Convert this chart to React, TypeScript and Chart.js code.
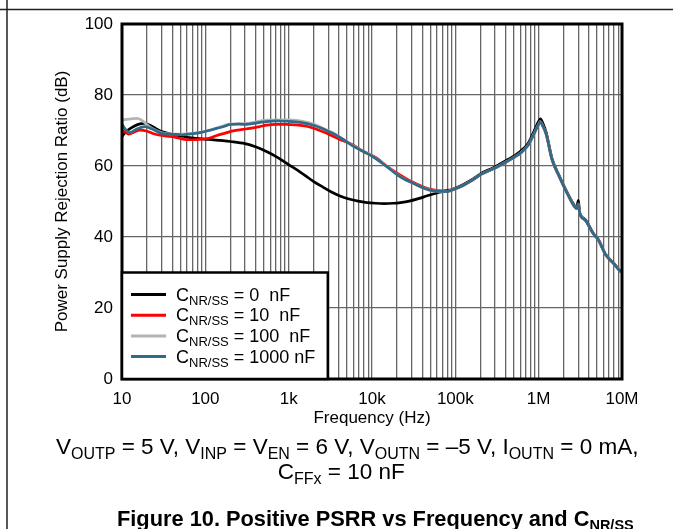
import React, { useEffect, useRef } from 'react';
import { Chart, registerables } from 'chart.js';
Chart.register(...registerables);

const FONT = 'Arial, "Liberation Sans", sans-serif';

// ---- data (frequency in Hz, PSRR in dB) ----
const blackFreq = [10, 11, 12.5, 14, 16, 18.5, 21, 24, 28, 33, 40, 50, 65, 85, 110, 150, 200, 300, 400, 550, 750, 1000, 1300, 1600, 2000, 2600, 3300, 4200, 5300, 6800, 8700, 11000, 14000, 18000, 22000, 28000, 36000, 46000, 60000, 75000, 90000];
const blackDb = [68.3, 69.5, 70.5, 71.2, 71.8, 72.0, 71.6, 70.9, 70.0, 69.4, 68.9, 68.5, 68.0, 67.7, 67.5, 67.2, 66.9, 66.3, 65.4, 64.0, 62.3, 60.4, 58.7, 57.2, 55.6, 54.0, 52.6, 51.5, 50.7, 50.1, 49.7, 49.5, 49.4, 49.5, 49.7, 50.1, 50.8, 51.6, 52.4, 53.0, 53.3];

const redFreq = [10, 11, 12, 13.5, 16.5, 20, 24, 28.6, 35, 45, 60, 72, 86, 110, 137, 170, 216, 280, 343, 450, 546, 700, 942, 1200, 1640, 2200, 2860, 4000, 5930, 8000, 11300, 15000, 21600, 31000, 50000, 78000];
const redDb = [70.1, 69.5, 69.0, 69.4, 70.1, 69.8, 69.1, 68.7, 68.4, 68.0, 67.4, 67.4, 67.5, 67.8, 68.6, 69.2, 69.9, 70.3, 70.6, 71.1, 71.5, 71.7, 71.7, 71.6, 71.2, 70.3, 69.2, 67.6, 65.9, 64.0, 62.3, 60.0, 57.5, 55.4, 53.4, 52.9];

const grayFreq = [10, 12, 15, 17, 19.8, 23, 31, 45, 72, 100, 137, 197, 313, 546, 942, 1370, 1980, 2600, 3400, 4500, 5930, 8000, 10300, 14000, 21600, 31400, 49600, 78000];
const grayDb = [73.0, 73.2, 73.4, 73.0, 71.7, 70.6, 69.3, 69.0, 69.2, 69.8, 70.7, 71.8, 72.0, 72.9, 73.0, 72.7, 71.8, 70.6, 69.3, 67.6, 65.7, 64.1, 62.7, 60.5, 57.1, 55.1, 53.2, 52.8];

const blueFreq = [10, 11, 12.5, 15, 18.9, 23, 31, 45, 54, 72, 86, 110, 137, 170, 197, 250, 313, 400, 546, 700, 942, 1370, 1980, 2600, 3400, 4500, 5930, 8000, 10300, 14000, 21600, 31400, 49600, 78000];
const blueDb = [71.8, 70.3, 69.4, 70.4, 71.1, 70.4, 69.1, 68.9, 68.8, 69.1, 69.4, 70.0, 70.6, 71.2, 71.7, 71.8, 71.7, 72.1, 72.5, 72.7, 72.6, 72.3, 71.5, 70.4, 69.2, 67.5, 65.6, 64.0, 62.6, 60.4, 57.0, 55.1, 53.2, 52.8];

// common high-frequency tail
const tailFreq = [1e5, 1.25e5, 1.6e5, 2e5, 2.9e5, 4.1e5, 5.2e5, 6e5, 7.5e5, 9e5, 1e6, 1.05e6, 1.12e6, 1.23e6, 1.45e6, 1.77e6, 2.15e6, 2.7e6, 2.85e6, 3e6, 3.1e6, 3.6e6, 4.5e6, 5.2e6, 6.4e6, 7.9e6, 9.4e6, 1e7];
const tailDb = [53.6, 54.6, 56.0, 57.6, 59.3, 61.2, 62.6, 63.6, 65.9, 69.6, 71.8, 72.5, 71.3, 69.0, 61.7, 57.0, 52.8, 48.5, 48.0, 49.3, 46.7, 44.8, 41.0, 39.2, 34.9, 32.6, 30.5, 30.0];
const blackTailDb = [53.7, 54.8, 56.2, 57.8, 59.6, 61.6, 63.0, 64.1, 66.4, 70.3, 72.6, 73.3, 72.1, 69.5, 62.0, 57.2, 53.0, 48.8, 48.4, 50.3, 47.0, 45.0, 41.1, 39.3, 35.0, 32.7, 30.6, 30.1];

const seriesColors = ['#000000', '#ff0000', '#b4b4b4', '#2f6a88'];
const legendValues = ['0  nF', '10  nF', '100  nF', '1000 nF'];
const xTickLabels: Record<number, string> = { 10: '10', 100: '100', 1000: '1k', 10000: '10k', 100000: '100k', 1000000: '1M', 10000000: '10M' };
const yTicks = [0, 20, 40, 60, 80, 100];

function pts(f: number[], d: number[]) {
  return f.map((x, i) => ({ x, y: d[i] }));
}

type Part = [string, boolean];
function measureRich(ctx: CanvasRenderingContext2D, parts: Part[], main: string, sub: string) {
  let w = 0;
  for (const [t, isSub] of parts) {
    ctx.font = isSub ? sub : main;
    w += ctx.measureText(t).width;
  }
  return w;
}
function drawRich(ctx: CanvasRenderingContext2D, x: number, y: number, parts: Part[], main: string, sub: string, shift: number) {
  let cx = x;
  for (const [t, isSub] of parts) {
    ctx.font = isSub ? sub : main;
    ctx.fillText(t, cx, isSub ? y + shift : y);
    cx += ctx.measureText(t).width;
  }
  return cx - x;
}

const decor = {
  id: 'decor',
  beforeDraw(chart: any) {
    const { ctx, width, height } = chart;
    ctx.save();
    ctx.fillStyle = '#fff';
    ctx.fillRect(0, 0, width, height);
    ctx.restore();
  },
  afterDatasetsDraw(chart: any) {
    const { ctx, chartArea: a, scales } = chart;
    ctx.save();
    ctx.strokeStyle = '#000';
    ctx.lineWidth = 3;
    ctx.strokeRect(a.left, a.top, a.right - a.left, a.bottom - a.top);
    // legend
    const xs = scales.x, ys = scales.y;
    const lx0 = xs.getPixelForValue(10), lx1 = xs.getPixelForValue(2950);
    const ly0 = ys.getPixelForValue(30), ly1 = ys.getPixelForValue(0);
    ctx.fillStyle = '#fff';
    ctx.fillRect(lx0, ly0, lx1 - lx0, ly1 - ly0);
    ctx.lineWidth = 2.5;
    ctx.strokeRect(lx0, ly0, lx1 - lx0, ly1 - ly0);
    const rows = [22, 42.7, 63.4, 84];
    legendValues.forEach((v, i) => {
      const ry = ly0 + rows[i];
      ctx.strokeStyle = seriesColors[i];
      ctx.lineWidth = 3;
      ctx.beginPath();
      ctx.moveTo(lx0 + 9, ry);
      ctx.lineTo(lx0 + 44, ry);
      ctx.stroke();
      ctx.fillStyle = '#000';
      ctx.textBaseline = 'alphabetic';
      drawRich(ctx, lx0 + 54, ry + 6, [['C', false], ['NR/SS', true], [' = ' + v, false]], `18px ${FONT}`, `13px ${FONT}`, 4);
    });
    ctx.restore();
  },
  afterDraw(chart: any) {
    const { ctx } = chart;
    ctx.save();
    ctx.strokeStyle = '#222';
    ctx.lineWidth = 1.5;
    ctx.beginPath();
    ctx.moveTo(7, 0);
    ctx.lineTo(7, 529);
    ctx.moveTo(0, 9.5);
    ctx.lineTo(673, 9.5);
    ctx.stroke();
    ctx.fillStyle = '#000';
    ctx.textBaseline = 'alphabetic';
    const m = `22.5px ${FONT}`, s = `16px ${FONT}`;
    const l1: Part[] = [['V', false], ['OUTP', true], [' = 5 V, V', false], ['INP', true], [' = V', false], ['EN', true], [' = 6 V, V', false], ['OUTN', true], [' = \u20135 V, I', false], ['OUTN', true], [' = 0 mA,', false]];
    const l2: Part[] = [['C', false], ['FFx', true], [' = 10 nF', false]];
    const w1 = measureRich(ctx, l1, m, s);
    const w2 = measureRich(ctx, l2, m, s);
    const cx = 56 + w1 / 2;
    drawRich(ctx, 56, 454, l1, m, s, 5);
    drawRich(ctx, cx - w2 / 2 - 6, 479, l2, m, s, 5);
    drawRich(ctx, 117, 526, [['Figure 10. Positive PSRR vs Frequency and C', false], ['NR/SS', true]], `bold 21.8px ${FONT}`, `bold 14.5px ${FONT}`, 4);
    ctx.restore();
  },
};

export default function App() {
  const ref = useRef<HTMLCanvasElement>(null);
  useEffect(() => {
    const gridVals: number[] = [];
    for (let e = 1; e < 7; e++) for (let m = 1; m < 10; m++) gridVals.push(m * Math.pow(10, e));
    gridVals.push(1e7);
    const line = (label: string, data: any[], color: string, order: number) => ({
      label,
      data,
      borderColor: color,
      backgroundColor: color,
      borderWidth: 2.7,
      pointRadius: 0,
      cubicInterpolationMode: 'monotone' as const,
      fill: false,
      order,
    });
    const chart = new Chart(ref.current!, {
      type: 'line',
      data: {
        datasets: [
          line('0 nF', pts(blackFreq.concat(tailFreq), blackDb.concat(blackTailDb)), seriesColors[0], 4),
          line('10 nF', pts(redFreq.concat(tailFreq), redDb.concat(tailDb)), seriesColors[1], 3),
          line('100 nF', pts(grayFreq.concat(tailFreq), grayDb.concat(tailDb)), seriesColors[2], 2),
          line('1000 nF', pts(blueFreq.concat(tailFreq), blueDb.concat(tailDb)), seriesColors[3], 1),
        ],
      },
      options: {
        responsive: false,
        animation: false,
        devicePixelRatio: 1,
        layout: { padding: { left: 0, top: 24, right: 51, bottom: 0 } },
        plugins: { legend: { display: false }, tooltip: { enabled: false } },
        scales: {
          x: {
            type: 'logarithmic',
            min: 10,
            max: 1e7,
            afterFit: (s: any) => { s.height = 150; },
            afterBuildTicks: (s: any) => { s.ticks = gridVals.map((v) => ({ value: v })); },
            ticks: {
              autoSkip: false,
              maxRotation: 0,
              padding: 10,
              color: '#000',
              font: { family: FONT, size: 17 },
              callback: (v: any) => xTickLabels[Math.round(Number(v))] ?? '',
            },
            grid: { color: '#666', lineWidth: 1.3, drawTicks: false },
            border: { display: false },
            title: { display: true, text: 'Frequency (Hz)', color: '#000', font: { family: FONT, size: 17 }, padding: { top: 0, bottom: 100 } },
          },
          y: {
            min: 0,
            max: 100,
            afterFit: (s: any) => { s.width = 122; },
            afterBuildTicks: (s: any) => { s.ticks = yTicks.map((v) => ({ value: v })); },
            ticks: { padding: 9, color: '#000', font: { family: FONT, size: 17 } },
            grid: { color: '#666', lineWidth: 1.3, drawTicks: false },
            border: { display: false },
            title: { display: true, text: 'Power Supply Rejection Ratio (dB)', color: '#000', font: { family: FONT, size: 17 }, padding: { top: 52, bottom: 0 } },
          },
        },
      },
      plugins: [decor],
    } as any);
    return () => chart.destroy();
  }, []);
  return (
    <div style={{ position: 'absolute', left: 0, top: 0, width: 673, height: 529, background: '#fff' }}>
      <canvas ref={ref} width={673} height={529} style={{ width: 673, height: 529, display: 'block' }} />
    </div>
  );
}
